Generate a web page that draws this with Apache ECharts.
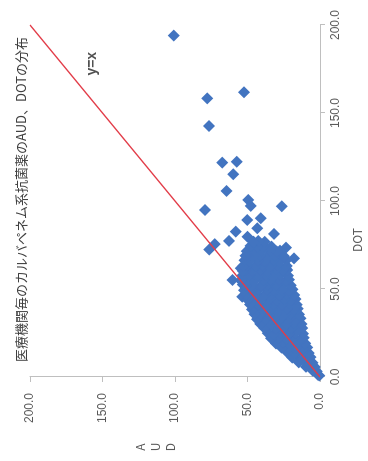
<!DOCTYPE html>
<html>
<head>
<meta charset="utf-8">
<script src="https://cdn.jsdelivr.net/npm/echarts@6/dist/echarts.min.js"></script>
<style>
  html, body { margin: 0; padding: 0; background: #fff; }
  #frame { position: relative; width: 368px; height: 461px; overflow: hidden; background: #fff; }
  /* the chart is laid out landscape and turned a quarter turn counter-clockwise */
  #chart {
    position: absolute; left: 0; top: 0;
    width: 461px; height: 368px;
    transform-origin: 0 0;
    transform: translateY(461px) rotate(-90deg);
  }
</style>
</head>
<body>
<div id="frame"><div id="chart"></div></div>
<script>
const titleText = '医療機関毎のカルバペネム系抗菌薬のAUD、DOTの分布';
const xName = 'DOT';
const yName = 'AUD';
const axisMin = 0;
const axisMax = 200;
const axisStep = 50;

// reference line y = x
const identityLine = [[0, 0], [200, 200]];
const identityLabelAt = [[178, 157]];

// hospitals, [DOT, AUD]: isolated high values
const outliers = [
  [194.0, 100.8], [158.3, 77.7], [161.8, 52.4], [142.6, 76.6],
  [121.8, 67.4], [122.3, 57.4], [115.2, 59.8], [105.7, 64.4],
  [100.6, 49.4], [97.2, 47.8], [94.9, 79.3], [97.0, 26.4],
  [89.2, 50.1], [90.2, 40.9], [82.6, 58.1], [84.5, 43.2],
  [81.3, 31.7], [75.5, 72.5], [72.4, 76.3], [77.3, 62.8],
  [79.7, 50.0], [73.5, 23.4], [67.4, 17.9], [61.8, 23.7],
  [61.8, 54.7], [55.1, 60.3], [45.6, 53.6]
];

// hospitals, [DOT, AUD]: the dense bulk near the origin
const cluster = [
  [0.8, 0.6], [1.3, 1.5],
  [3.2, 2.3], [3.6, 5.0],
  [5.7, 3.7], [6.2, 7.2], [5.8, 9.6],
  [8.1, 5.1], [8.7, 10.1], [8.3, 14.6],
  [11.3, 6.5], [10.9, 9.6], [11.4, 14.3], [11.0, 19.2],
  [13.6, 7.8], [14.1, 12.4], [13.7, 17.8], [14.0, 22.6],
  [16.8, 8.8], [16.3, 11.8], [16.9, 16.2], [16.4, 21.9], [16.7, 26.5],
  [19.1, 10.1], [19.6, 15.2], [19.2, 19.8], [19.5, 25.6], [19.0, 30.3],
  [22.3, 11.2], [21.8, 13.1], [22.4, 18.0], [21.9, 23.7], [22.2, 28.5], [22.0, 33.8],
  [24.6, 11.8], [25.1, 16.9], [24.7, 21.5], [25.0, 27.4], [24.5, 32.0], [24.9, 36.1],
  [27.8, 12.3], [27.3, 15.1], [27.9, 19.8], [27.4, 25.6], [27.7, 30.4], [27.5, 36.0], [27.8, 38.4],
  [30.1, 12.8], [30.6, 18.5], [30.2, 23.3], [30.5, 29.1], [30.0, 34.0], [30.4, 39.7], [30.2, 41.2],
  [33.3, 13.5], [32.8, 16.4], [33.4, 21.2], [32.9, 27.0], [33.2, 31.9], [33.0, 37.6], [33.3, 42.5], [32.8, 43.4],
  [35.6, 14.4], [36.1, 19.8], [35.7, 24.6], [36.0, 30.4], [35.5, 35.3], [35.9, 41.1], [35.7, 45.1],
  [38.8, 15.3], [38.3, 18.0], [38.9, 22.9], [38.4, 28.6], [38.7, 33.4], [38.5, 39.2], [38.8, 44.0], [38.4, 46.9],
  [41.1, 16.0], [41.6, 21.4], [41.2, 26.2], [41.5, 32.0], [41.0, 36.9], [41.4, 42.7], [41.2, 48.2],
  [44.3, 16.9], [43.8, 19.5], [44.4, 24.3], [43.9, 30.1], [44.2, 35.0], [44.0, 40.8], [44.3, 45.6], [43.8, 49.8],
  [46.6, 17.8], [47.1, 23.1], [46.7, 27.9], [47.0, 33.7], [46.5, 38.5], [46.9, 44.3], [46.7, 49.2], [47.0, 51.1],
  [49.8, 18.9], [49.3, 21.4], [49.9, 26.2], [49.4, 32.0], [49.7, 36.8], [49.5, 42.6], [49.8, 47.4], [49.3, 52.4],
  [52.1, 20.1], [52.6, 25.1], [52.2, 29.9], [52.5, 35.7], [52.0, 40.6], [52.4, 46.3], [52.2, 51.1], [52.5, 53.2],
  [55.3, 21.3], [54.8, 23.5], [55.4, 28.3], [54.9, 34.1], [55.2, 39.0], [55.0, 44.7], [55.3, 49.5], [54.8, 54.6],
  [57.6, 22.0], [58.1, 27.2], [57.7, 32.0], [58.0, 37.8], [57.5, 42.7], [57.9, 48.4], [57.7, 53.5],
  [60.8, 22.6], [60.3, 25.6], [60.9, 30.4], [60.4, 36.2], [60.7, 41.0], [60.5, 46.8], [60.8, 51.6], [60.3, 53.3],
  [63.1, 23.0], [63.6, 29.1], [63.2, 33.9], [63.5, 39.7], [63.0, 44.6], [63.4, 50.3], [63.2, 52.8],
  [66.3, 23.3], [65.8, 27.5], [66.4, 32.3], [65.9, 38.1], [66.2, 43.0], [66.0, 48.7], [66.3, 52.0],
  [68.6, 24.9], [69.1, 31.0], [68.7, 35.8], [69.0, 41.6], [68.5, 46.5], [68.9, 51.3],
  [71.8, 27.5], [71.3, 29.8], [71.9, 34.6], [71.4, 40.4], [71.7, 45.3], [71.5, 50.6],
  [74.1, 33.4], [74.6, 38.8], [74.2, 43.6], [74.5, 48.0],
  [76.8, 38.1], [77.3, 42.5], [76.9, 45.9]
];

const axisGrey = '#bfbfbf';
const labelGrey = '#595959';
const numFont = '"Liberation Sans", Arial, sans-serif';
const jpFont = '"Noto Sans CJK JP", sans-serif';

const chart = echarts.init(document.getElementById('chart'), null, { renderer: 'canvas' });

function valueAxis(extra) {
  return Object.assign({
    type: 'value',
    min: axisMin,
    max: axisMax,
    interval: axisStep,
    splitLine: { show: false },
    axisLine: { show: true, lineStyle: { color: axisGrey, width: 1 } },
    axisTick: { show: true, length: 5, lineStyle: { color: axisGrey } }
  }, extra);
}

chart.setOption({
  animation: false,
  backgroundColor: '#fff',
  title: {
    text: titleText,
    left: 94,
    top: 10,
    textStyle: { fontSize: 13, fontWeight: 'normal', color: '#404040', fontFamily: jpFont }
  },
  grid: { left: 84, right: 25, top: 30, bottom: 47, containLabel: false },
  xAxis: valueAxis({
    name: xName,
    nameLocation: 'middle',
    nameGap: 31,
    nameTextStyle: { fontSize: 12, color: labelGrey, fontFamily: jpFont, padding: [0, 78, 0, 0] },
    axisLabel: {
      formatter: v => v.toFixed(1), fontSize: 12, color: labelGrey, fontFamily: numFont, margin: 10
    }
  }),
  yAxis: valueAxis({
    axisLabel: {
      formatter: v => v.toFixed(1), fontSize: 12, color: labelGrey, fontFamily: numFont, margin: 16
    }
  }),
  graphic: [{
    type: 'text',
    x: 14,
    y: 155,
    style: {
      text: yName.split('').join('\n'),
      fontSize: 12,
      lineHeight: 15,
      fill: labelGrey,
      fontFamily: jpFont,
      align: 'center',
      verticalAlign: 'middle'
    }
  }],
  series: [
    {
      type: 'scatter',
      data: outliers.concat(cluster),
      symbol: 'diamond',
      symbolSize: 12,
      itemStyle: { color: '#4274c0', opacity: 1 },
      silent: true,
      z: 2
    },
    {
      type: 'line',
      data: identityLine,
      symbol: 'none',
      lineStyle: { color: '#e23c48', width: 1.5 },
      silent: true,
      z: 3
    },
    {
      type: 'scatter',
      data: identityLabelAt,
      symbolSize: 0,
      silent: true,
      label: {
        show: true,
        position: 'inside',
        formatter: 'y=x',
        fontSize: 14,
        fontWeight: 'bold',
        color: '#262626',
        fontFamily: numFont
      },
      z: 4
    }
  ]
});
</script>
</body>
</html>
